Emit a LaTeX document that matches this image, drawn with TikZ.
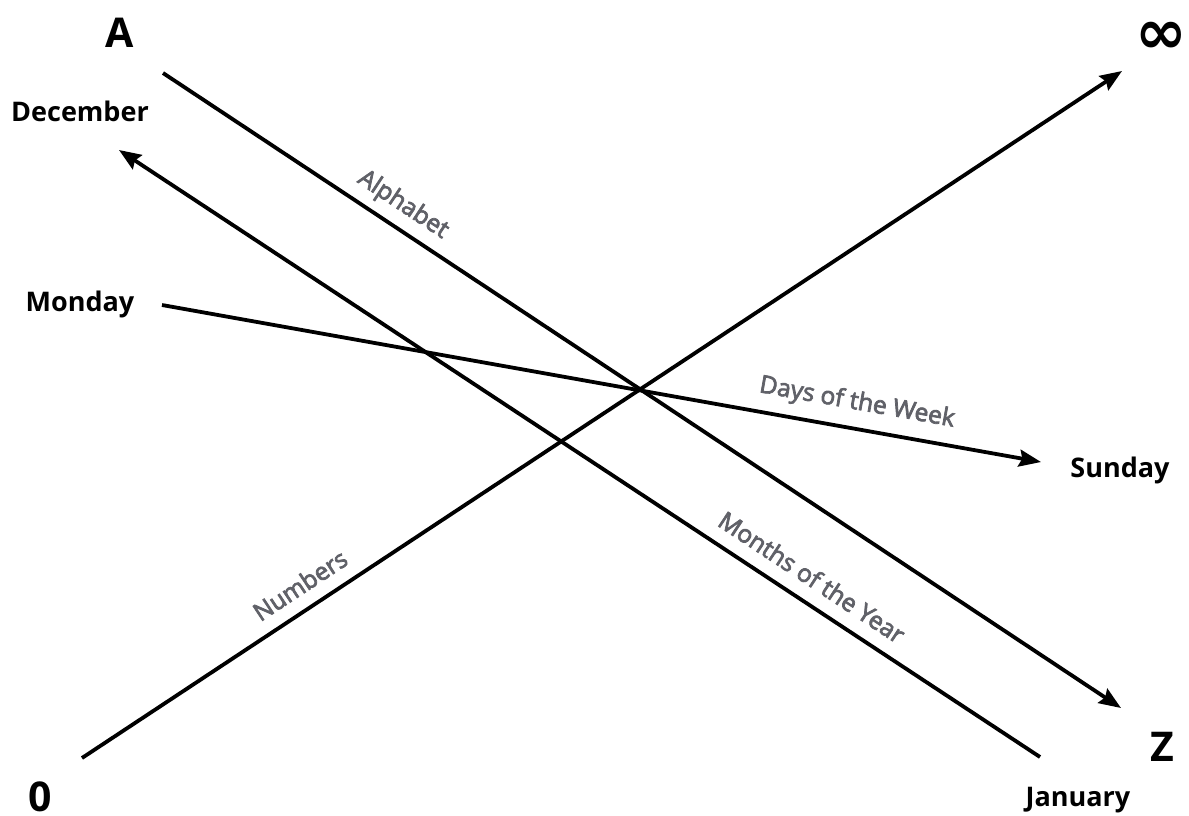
\documentclass[tikz,border=0pt]{standalone}
\usepackage{fontspec}
\setmainfont{Open Sans}
\newfontfamily\symfont{DejaVu Sans}
\newfontfamily\lblfont{Open Sans}[FakeBold=3]
\usetikzlibrary{arrows.meta}
\definecolor{lblgray}{RGB}{96,97,104}
\begin{document}
\begin{tikzpicture}[x=1pt,y=-1pt,
  conn/.style={line width=3.8pt},
  arr/.style={conn,-{Stealth[length=22pt,width=17pt,inset=3pt]}},
  endlbl/.style={font=\fontsize{27}{30}\selectfont\bfseries,inner sep=0pt},
  biglbl/.style={font=\fontsize{41}{46}\selectfont\bfseries,inner sep=0pt},
  linelbl/.style={font=\fontsize{24.5}{28}\selectfont\lblfont,text=lblgray,inner sep=0pt}]
\useasboundingbox (0,0) rectangle (1189,815);
% end points
\coordinate (aS) at (163,73);   \coordinate (aE) at (1121,708);
\coordinate (mS) at (1040,757); \coordinate (mE) at (119,150);
\coordinate (nS) at (82,758);   \coordinate (nE) at (1122,71);
\coordinate (dS) at (162,305);  \coordinate (dE) at (1041,462);
% connectors
\draw[arr] (aS) -- (aE);
\draw[arr] (mS) -- (mE);
\draw[arr] (nS) -- (nE);
\draw[arr] (dS) -- (dE);
% end labels
\node[biglbl] (A) at (120,33) {A};
\node[inner sep=0pt,font=\fontsize{62}{64}\selectfont\bfseries\symfont] (inf) at (1161,38) {∞};
\node[endlbl] (dec) at (80,111) {December};
\node[endlbl] (mon) at (80,304) {Monday};
\node[endlbl] (sun) at (1120,470) {Sunday};
\node[biglbl] (Z) at (1162,747) {Z};
\node[biglbl] (zero) at (40,797) {0};
\node[endlbl] (jan) at (1078,800) {January};
% line labels
\node[linelbl,rotate=-33.6] (alph) at (403,205) {Alphabet};
\node[linelbl,rotate=-10.1] (days) at (857,403) {Days of the Week};
\node[linelbl,rotate=-33.4] (months) at (812,577) {Months of the Year};
\node[linelbl,rotate=33.4] (nums) at (300,585) {Numbers};
\end{tikzpicture}
\end{document}
